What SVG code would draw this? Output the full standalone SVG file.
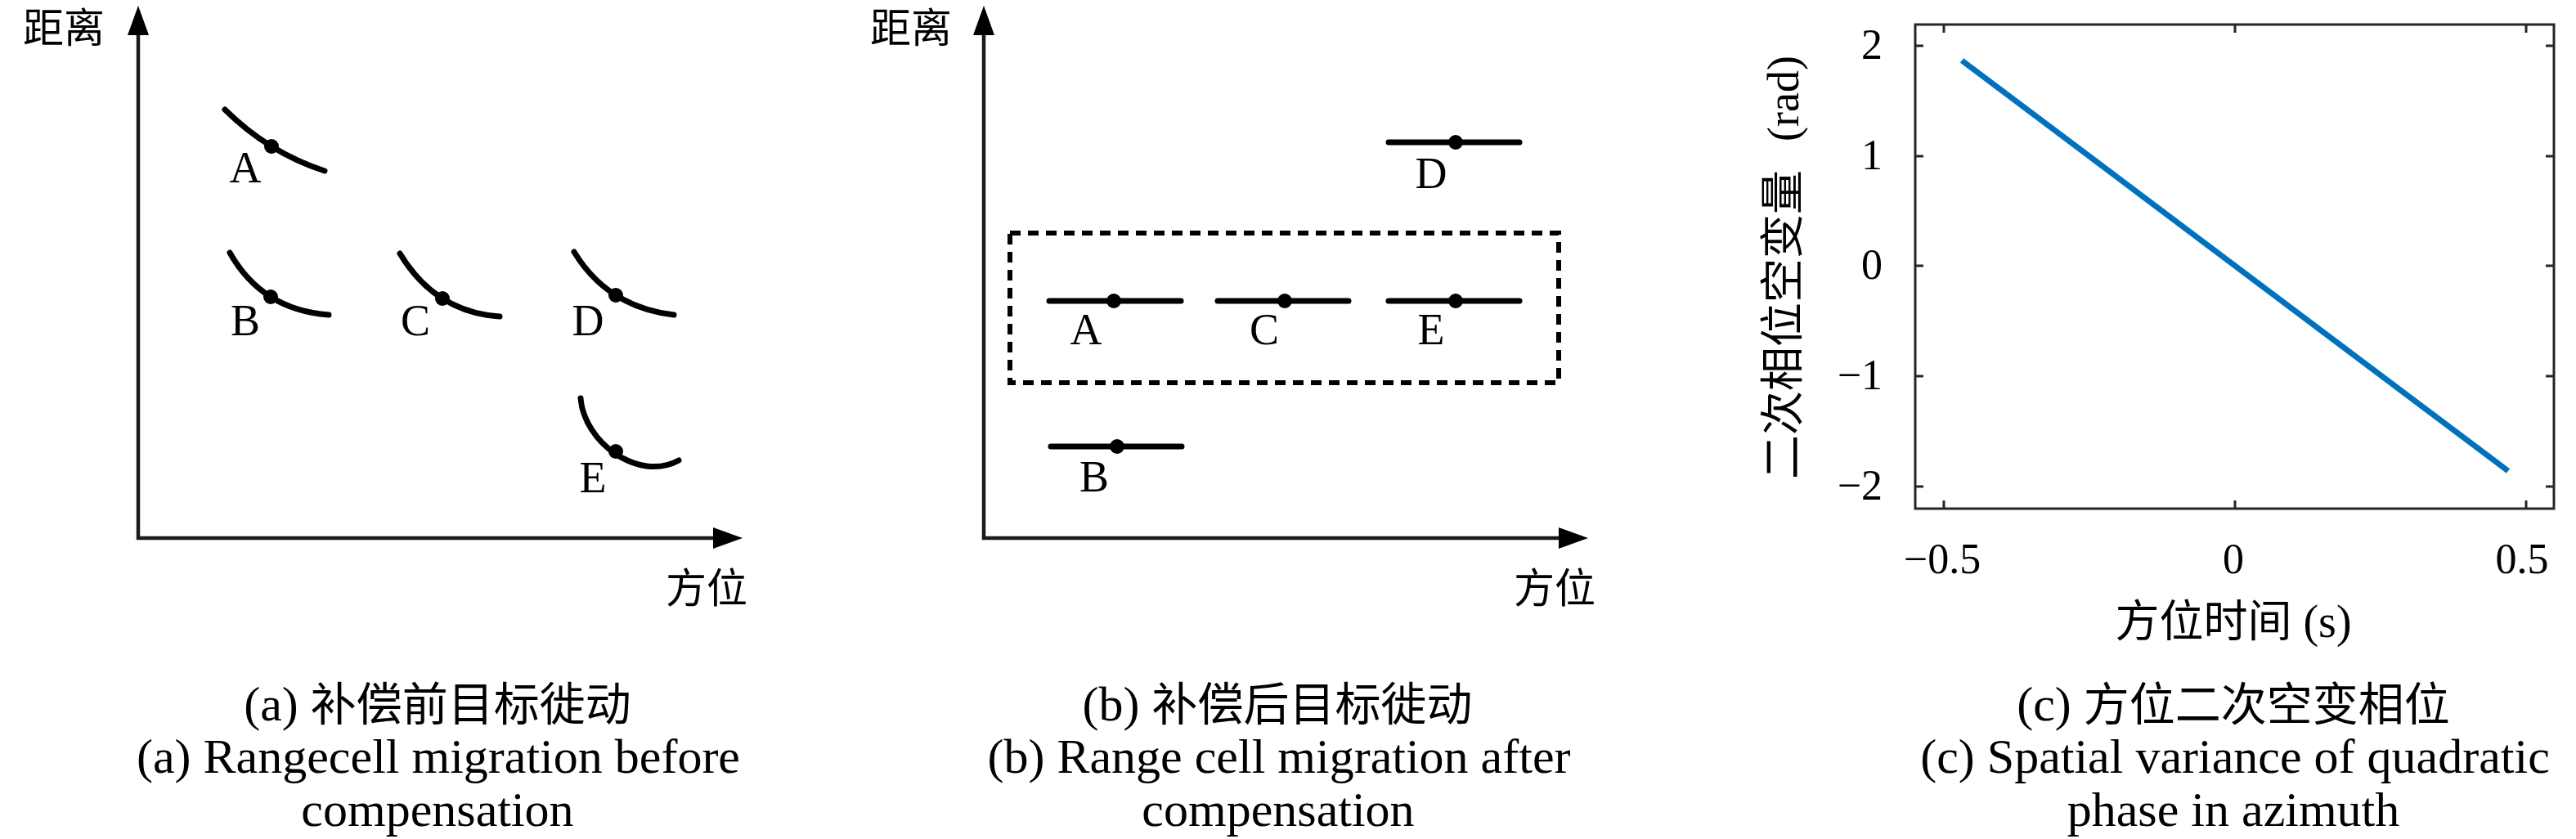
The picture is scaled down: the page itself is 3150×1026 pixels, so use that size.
<svg xmlns="http://www.w3.org/2000/svg" width="3150" height="1026" viewBox="0 0 3150 1026">
<style>
.ax{stroke:#1a1a1a;stroke-width:4.5;fill:none}
.tg{stroke:#000;stroke-width:7;fill:none;stroke-linecap:round}
.dot{fill:#000}
.lbl{font-family:"Liberation Serif",serif;font-size:54px;text-anchor:middle;fill:#000}
.cjk{font-family:"Noto Sans CJK SC",sans-serif;font-size:50px;fill:#000}
.cap{font-family:"Liberation Serif","Noto Sans CJK SC",serif;font-size:60px;text-anchor:middle;fill:#000}
.capz{font-family:"Noto Sans CJK SC",sans-serif;font-size:56px}
.tick{font-family:"Liberation Serif",serif;font-size:52px;fill:#000}
.box{stroke:#262626;stroke-width:3;fill:none}
.dash{stroke:#000;stroke-width:6;fill:none;stroke-dasharray:13 9}
</style>
<defs>
<marker id="arr" markerUnits="userSpaceOnUse" markerWidth="36" markerHeight="26" refX="13" refY="13" orient="auto-start-reverse">
<path d="M0,0 L36,13 L0,26 z" fill="#000"/>
</marker>
</defs>
<rect width="3150" height="1026" fill="#fff"/>

<g id="connectors">
<path class="ax" d="M169,30 L169,658 L885,658" marker-start="url(#arr)" marker-end="url(#arr)"/>
<path class="ax" d="M1203,30 L1203,658 L1919,658" marker-start="url(#arr)" marker-end="url(#arr)"/>
</g>

<g id="panel-a">
<text class="cjk" x="28" y="52">距离</text>
<text class="cjk" x="814" y="737">方位</text>
<g id="a-target-A"><path class="tg" d="M275,134 Q328,186.5 397,209"/><circle class="dot" cx="332" cy="179" r="9"/><text class="lbl" x="300" y="223">A</text></g>
<g id="a-target-B"><path class="tg" d="M281,309 Q320.5,379 402,385"/><circle class="dot" cx="331" cy="363" r="9"/><text class="lbl" x="300" y="410">B</text></g>
<g id="a-target-C"><path class="tg" d="M489,310 Q532,381.5 611,387"/><circle class="dot" cx="541" cy="365" r="9"/><text class="lbl" x="508" y="410">C</text></g>
<g id="a-target-D"><path class="tg" d="M702,308 Q743,375.5 824,385"/><circle class="dot" cx="753" cy="361" r="9"/><text class="lbl" x="719" y="410">D</text></g>
<g id="a-target-E"><path class="tg" d="M710,487 C714,540 780,590 830,563"/><circle class="dot" cx="753" cy="552" r="9"/><text class="lbl" x="725" y="602">E</text></g>
<text class="cap" x="535" y="881">(a) <tspan class="capz">补偿前目标徙动</tspan></text>
<text class="cap" x="536" y="945">(a) Rangecell migration before</text>
<text class="cap" x="535" y="1010">compensation</text>
</g>

<g id="panel-b">
<text class="cjk" x="1064" y="52">距离</text>
<text class="cjk" x="1851" y="737">方位</text>
<g id="b-group"><rect class="dash" x="1235" y="285" width="671" height="183"/></g>
<g id="b-target-D"><path class="tg" d="M1698,174 H1858"/><circle class="dot" cx="1780" cy="174" r="9"/><text class="lbl" x="1750" y="230">D</text></g>
<g id="b-target-A"><path class="tg" d="M1283,368 H1444"/><circle class="dot" cx="1362" cy="368" r="9"/><text class="lbl" x="1328" y="421">A</text></g>
<g id="b-target-C"><path class="tg" d="M1489,368 H1649"/><circle class="dot" cx="1571" cy="368" r="9"/><text class="lbl" x="1546" y="421">C</text></g>
<g id="b-target-E"><path class="tg" d="M1698,368 H1858"/><circle class="dot" cx="1780" cy="368" r="9"/><text class="lbl" x="1750" y="421">E</text></g>
<g id="b-target-B"><path class="tg" d="M1285,546 H1445"/><circle class="dot" cx="1366" cy="546" r="9"/><text class="lbl" x="1338" y="601">B</text></g>
<text class="cap" x="1562" y="881">(b) <tspan class="capz">补偿后目标徙动</tspan></text>
<text class="cap" x="1564" y="945">(b) Range cell migration after</text>
<text class="cap" x="1563" y="1010">compensation</text>
</g>

<g id="panel-c">
<rect class="box" x="2342" y="30" width="781" height="592"/>
<path class="box" d="M2342,56 h10 M2342,191 h10 M2342,325 h10 M2342,460 h10 M2342,595 h10 M3123,56 h-10 M3123,191 h-10 M3123,325 h-10 M3123,460 h-10 M3123,595 h-10 M2377,622 v-10 M2733,622 v-10 M3089,622 v-10 M2377,30 v10 M2733,30 v10 M3089,30 v10"/>
<line x1="2399" y1="74" x2="3067" y2="576" stroke="#0072BD" stroke-width="7"/>
<g class="tick" text-anchor="end">
<text x="2302" y="72">2</text>
<text x="2302" y="207">1</text>
<text x="2302" y="341">0</text>
<text x="2302" y="476">−1</text>
<text x="2302" y="611">−2</text>
</g>
<g class="tick" text-anchor="middle">
<text x="2375" y="701">−0.5</text>
<text x="2731" y="701">0</text>
<text x="3084" y="701">0.5</text>
</g>
<text font-family="Liberation Serif, Noto Sans CJK SC, serif" font-size="56" text-anchor="middle" x="2731" y="779"><tspan font-family="Noto Sans CJK SC, sans-serif" font-size="54">方位时间</tspan> (s)</text>
<text font-family="Liberation Serif, serif" font-size="54" transform="translate(2199,586) rotate(-90)"><tspan font-family="Noto Sans CJK SC, sans-serif" x="0">二次相位空变量</tspan><tspan x="413">(rad)</tspan></text>
<text class="cap" x="2731" y="881">(c) <tspan class="capz">方位二次空变相位</tspan></text>
<text class="cap" x="2733" y="945">(c) Spatial variance of quadratic</text>
<text class="cap" x="2731" y="1010">phase in azimuth</text>
</g>
</svg>
